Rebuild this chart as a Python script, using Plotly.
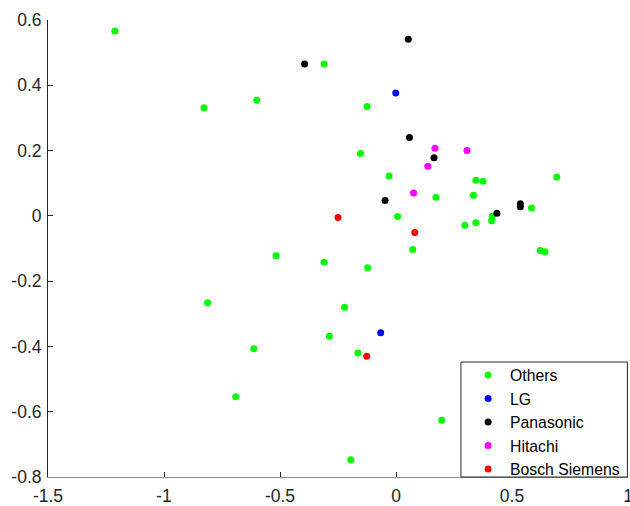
import plotly.graph_objects as go

# ---- data ----
others_x = [-1.212, -0.828, -0.600, -0.310, -0.125, -0.153, -0.030, 0.172, 0.007,
            0.344, 0.375, 0.334, 0.693, 0.584, 0.415, 0.412, 0.344, 0.297, 0.072,
            0.622, 0.642, -0.517, -0.310, -0.122, -0.222, -0.287, -0.164, 0.197,
            -0.195, -0.812, -0.613, -0.691]
others_y = [0.566, 0.331, 0.354, 0.465, 0.335, 0.191, 0.122, 0.057, -0.002,
            0.109, 0.106, 0.063, 0.119, 0.024, -0.001, -0.015, -0.021, -0.029, -0.103,
            -0.106, -0.110, -0.122, -0.142, -0.159, -0.280, -0.369, -0.420, -0.626,
            -0.747, -0.266, -0.407, -0.554]

lg_x = [-0.001, -0.066]
lg_y = [0.376, -0.358]

panasonic_x = [-0.394, 0.053, 0.058, 0.164, -0.047, 0.435, 0.536, 0.536]
panasonic_y = [0.465, 0.541, 0.240, 0.178, 0.047, 0.008, 0.037, 0.028]

hitachi_x = [0.168, 0.306, 0.137, 0.076]
hitachi_y = [0.207, 0.200, 0.152, 0.070]

bosch_x = [-0.250, 0.081, -0.126]
bosch_y = [-0.005, -0.051, -0.430]

series_names = ["Others", "LG", "Panasonic", "Hitachi", "Bosch Siemens"]
series_colors = ["#00ff00", "#0000ff", "#000000", "#ff00ff", "#ff0000"]

x_tickvals = [-1.5, -1, -0.5, 0, 0.5, 1]
x_ticktext = ["-1.5", "-1", "-0.5", "0", "0.5", "1"]
y_tickvals = [-0.8, -0.6, -0.4, -0.2, 0, 0.2, 0.4, 0.6]
y_ticktext = ["-0.8", "-0.6", "-0.4", "-0.2", "0", "0.2", "0.4", "0.6"]

# ---- figure ----
fig = go.Figure()
all_series = [(others_x, others_y), (lg_x, lg_y), (panasonic_x, panasonic_y),
              (hitachi_x, hitachi_y), (bosch_x, bosch_y)]
for (xs, ys), name, color in zip(all_series, series_names, series_colors):
    fig.add_trace(go.Scatter(
        x=xs, y=ys, mode="markers", name=name,
        marker=dict(color=color, size=7, line=dict(width=0)),
    ))

# legend frame (drawn as a paper-referenced box, entries placed inside)
fig.add_shape(
    type="rect", xref="paper", yref="paper",
    x0=0.712, x1=0.999, y0=0.0, y1=0.2516,
    line=dict(color="#262626", width=1), fillcolor="white", layer="above",
)

font_family = "Liberation Sans, Arial, sans-serif"
fig.update_layout(
    width=630, height=506,
    margin=dict(l=48, r=2, t=20, b=29),
    paper_bgcolor="white", plot_bgcolor="white",
    font=dict(family=font_family, size=17.5, color="#262626"),
    showlegend=True,
    legend=dict(
        x=0.995, y=-0.0204, xanchor="right", yanchor="bottom",
        bgcolor="rgba(0,0,0,0)", borderwidth=0,
        font=dict(family=font_family, size=15.75, color="#000000"),
        indentation=4, itemwidth=34,
    ),
    xaxis=dict(
        range=[-1.5, 1], tickvals=x_tickvals, ticktext=x_ticktext,
        showgrid=False, zeroline=False, automargin=False,
        showline=True, linecolor="#8c8c8c", linewidth=1,
        ticks="inside", ticklen=5, tickcolor="#262626", tickwidth=1,
        tickfont=dict(size=17.5, color="#262626"),
        ticklabeloverflow="allow", ticklabelstandoff=3,
    ),
    yaxis=dict(
        range=[-0.8, 0.6], tickvals=y_tickvals, ticktext=y_ticktext,
        showgrid=False, zeroline=False, automargin=False,
        showline=True, linecolor="#262626", linewidth=1,
        ticks="inside", ticklen=5, tickcolor="#262626", tickwidth=1,
        tickfont=dict(size=17.5, color="#262626"),
        ticklabeloverflow="allow", ticklabelstandoff=2,
    ),
)

fig.write_html("out.html")
